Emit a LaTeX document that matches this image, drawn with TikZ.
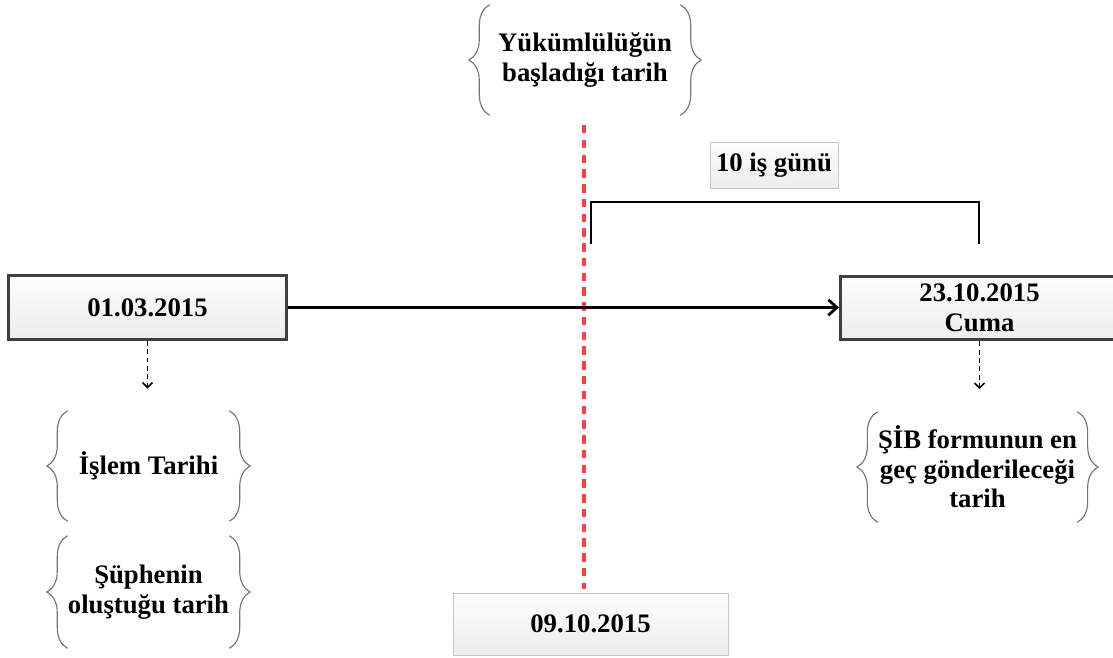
\documentclass[tikz,border=0pt]{standalone}
\usepackage{fontspec}
\setmainfont{Liberation Serif}
\usetikzlibrary{arrows.meta,decorations.pathreplacing}

\begin{document}
\begin{tikzpicture}[x=0.025cm, y=-0.025cm,
		font=\bfseries\fontsize{19}{21}\selectfont,
		date_style/.style={rectangle,draw=black!75,line width=2.2pt,top color=gray!2,bottom color=gray!14,minimum width=6.95cm,minimum height=1.58cm,align=center,inner sep=0pt},
		day_style/.style={rectangle,draw=black!22,line width=0.6pt,top color=gray!2,bottom color=gray!14,minimum width=6.87cm,minimum height=1.55cm,align=center,inner sep=0pt},
		tag_style/.style={rectangle,draw=black!22,line width=0.6pt,top color=gray!2,bottom color=gray!14,minimum width=3.2cm,minimum height=1.15cm,inner sep=0pt},
		note_style/.style={rectangle,align=center,minimum height=2.75cm,inner sep=0pt},
		brace_style/.style={draw=black!55,line width=0.8pt,decorate,decoration={brace,amplitude=0.52cm}},
		edge_style/.style={draw=black,line width=2.8pt,-{Straight Barb[length=6pt,width=11pt,line width=2pt]}},
		down_style/.style={draw=black,line width=1.3pt,dash pattern=on 3.5pt off 2.5pt,-{Straight Barb[length=3.5pt,width=7pt,line width=1.2pt]}},
		limit_style/.style={draw=red!75,line width=2.8pt,dash pattern=on 6pt off 4.5pt},
		span_style/.style={draw=black,line width=1.1pt}]
		
		\useasboundingbox (0,0) rectangle (1113,658);
		
		\node[date_style] (d1) at (147.5,307.5) {01.03.2015};
		\node[date_style] (d2) at (979.5,308) {23.10.2015\\Cuma};
		\node[day_style] (d3) at (590.5,624) {09.10.2015};
		\node[tag_style] (t1) at (774,165) {10 iş günü};
		
		\node[note_style,minimum width=4.75cm] (n0) at (585,60) {Yükümlülüğün\\başladığı tarih};
		\node[note_style,minimum width=4.025cm] (n1) at (148.5,466) {İşlem Tarihi};
		\node[note_style,minimum width=4.025cm,minimum height=2.8cm] (n2) at (148.5,592) {Şüphenin\\oluştuğu tarih};
		\node[note_style,minimum width=4.675cm] (n3) at (977.5,467) {ŞİB formunun en\\geç gönderileceği\\tarih};
		
		\foreach \n in {n0,n1,n2,n3} {
			\draw[brace_style] (\n.south west) -- (\n.north west);
			\draw[brace_style] (\n.north east) -- (\n.south east);
		}
		
		\coordinate (lim_top) at (584,125);
		\coordinate (span_l) at (591,244);
		\coordinate (span_r) at (979,244);
		
		\draw[limit_style] (lim_top) -- ([yshift=0.08cm]d3.north -| lim_top);
		\draw[span_style] (span_l) -- ++(0,-42) -| (span_r);
		
		\draw[edge_style] (d1.east) -- (d2.west |- d1.east);
		\draw[down_style] (d1.south) -- ++(0,48);
		\draw[down_style] (d2.south) -- ++(0,48);
		
\end{tikzpicture}
\end{document}
